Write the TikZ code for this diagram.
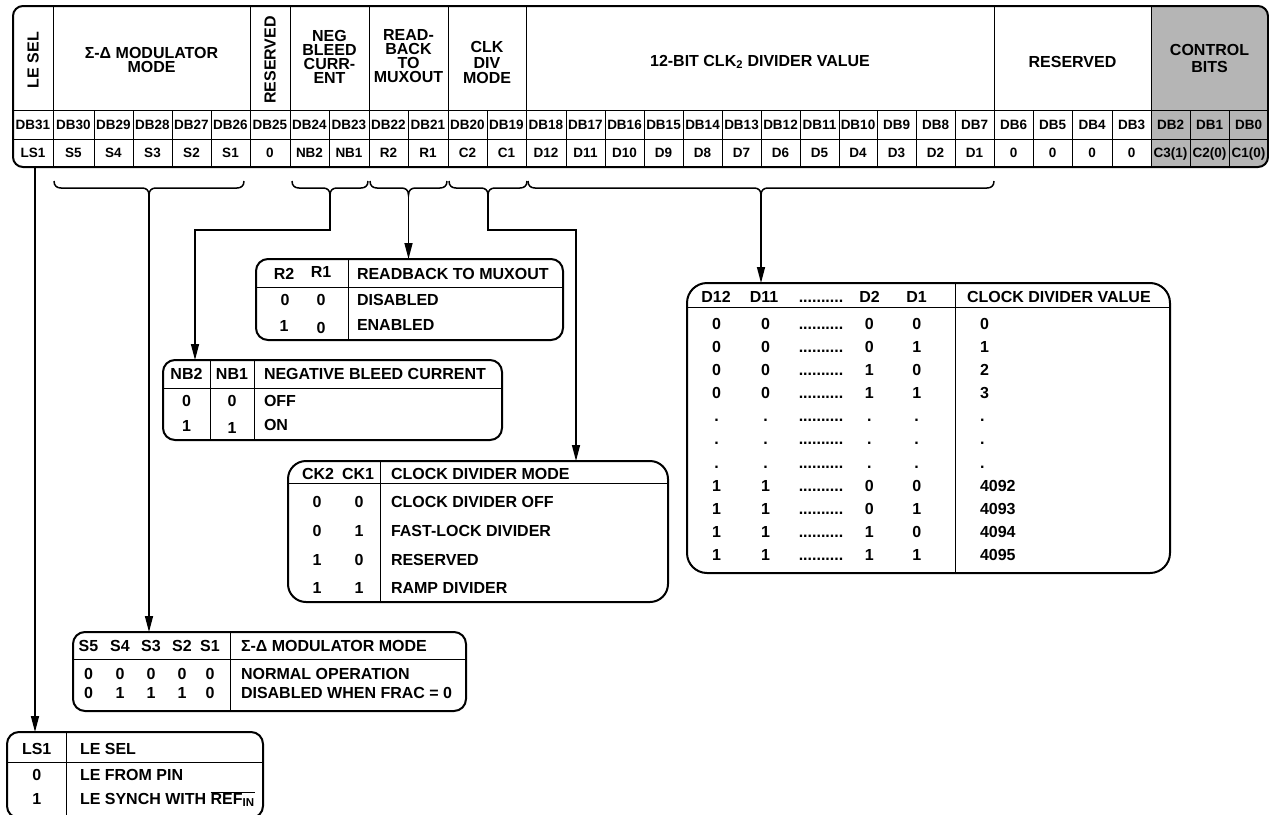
\documentclass[tikz,border=0pt]{standalone}
\usepackage{fontspec}
\setmainfont{Liberation Sans}
\usetikzlibrary{arrows.meta}
\definecolor{ctlgray}{RGB}{181,181,181}
\begin{document}
\begin{tikzpicture}[x=1pt,y=-1pt,
  regbox/.style={draw,line width=2pt,rounded corners=10pt,inner sep=0pt,outer sep=0pt},
  tblbox/.style={draw,line width=2pt,rounded corners=12pt,inner sep=0pt,outer sep=0pt,anchor=north west},
  rule/.style={line width=1pt},
  regtxt/.style={inner sep=0pt,outer sep=0pt,anchor=base,font=\bfseries\fontsize{13.5}{15}\selectfont},
  hdrtxt/.style={inner sep=0pt,outer sep=0pt,align=center,font=\bfseries\fontsize{16}{14}\selectfont},
  tbltxt/.style={inner sep=0pt,outer sep=0pt,anchor=base,font=\bfseries\fontsize{16}{18}\selectfont},
  tbllft/.style={tbltxt,anchor=base west},
  brc/.style={line width=1.5pt},
  conn/.style={line width=1.5pt,-{Triangle[length=16pt,width=8pt]}}]
\path[use as bounding box] (0,0) rectangle (1269,814);
\begin{scope}
\clip[rounded corners=10pt] (13,6) rectangle (1268,167);
\fill[ctlgray] (1151,6) rectangle (1268,167);
\end{scope}
\node[regbox,minimum width=1255pt,minimum height=161pt,anchor=north west] (reg) at (13,6) {};
\draw[rule] (13,110) -- (1268,110);
\draw[rule] (13,139) -- (1268,139);
\foreach \xg in {53,250,290,369,448,526,994,1151}
  \draw[rule] (\xg,6) -- (\xg,110);
\foreach \xa/\xb/\db/\bv in {13/53/31/LS1, 53/94/30/S5, 94/133/29/S4, 133/172/28/S3, 172/211/27/S2, 211/250/26/S1, 250/290/25/0, 290/329/24/NB2, 329/369/23/NB1, 369/408/22/R2, 408/448/21/R1, 448/487/20/C2, 487/526/19/C1, 526/566/18/D12, 566/605/17/D11, 605/644/16/D10, 644/683/15/D9, 683/722/14/D8, 722/761/13/D7, 761/800/12/D6, 800/839/11/D5, 839/877/10/D4, 877/916/9/D3, 916/955/8/D2, 955/994/7/D1, 994/1033/6/0, 1033/1072/5/0, 1072/1112/4/0, 1112/1151/3/0, 1151/1190/2/C3(1), 1190/1229/1/C2(0), 1229/1268/0/C1(0)}
{
  \node[regtxt] (db\db) at ({(\xa+\xb)/2},129.3) {DB\db};
  \node[regtxt] (bv\db) at ({(\xa+\xb)/2},157.8) {\bv};
  \ifnum\xb<1268 \draw[rule] (\xb,110) -- (\xb,167); \fi
}
\node[hdrtxt,rotate=90] (hLE) at (33,60) {LE SEL};
\node[hdrtxt] (hSD) at (151.5,60) {Σ-Δ MODULATOR\\MODE};
\node[hdrtxt,rotate=90] (hRS) at (270,60) {RESERVED};
\node[hdrtxt] (hNB) at (329.5,56.5) {NEG\\BLEED\\CURR-\\ENT};
\node[hdrtxt] (hRB) at (408.5,56.5) {READ-\\BACK\\TO\\MUXOUT};
\node[hdrtxt,font=\bfseries\fontsize{16}{15.5}\selectfont] (hCK) at (487,62.5) {CLK\\DIV\\MODE};
\node[hdrtxt] (hDV) at (760,62) {12-BIT CLK\textsubscript{2} DIVIDER VALUE};
\node[hdrtxt] (hRV) at (1072.5,62) {RESERVED};
\node[hdrtxt,font=\bfseries\fontsize{16}{17}\selectfont] (hCB) at (1209.5,58.5) {CONTROL\\BITS};
\foreach \xl/\xr/\bn in {54/244/bS, 292/368/bN, 370/447/bR, 449/527/bC, 528/994/bD}
{
  \pgfmathsetmacro\xm{(\xl+\xr)/2}
  \draw[brc] (\xl,181) .. controls (\xl,186) and (\xl+3,188) .. (\xl+7,188) -- (\xm-7,188)
    .. controls (\xm-3,188) and (\xm,190) .. (\xm,195)
    .. controls (\xm,190) and (\xm+3,188) .. (\xm+7,188) -- (\xr-7,188)
    .. controls (\xr-3,188) and (\xr,186) .. (\xr,181);
  \coordinate (\bn) at (\xm,195);
}
\node[tblbox,minimum width=307pt,minimum height=81pt] (rdbox) at (256,259) {};
\draw[rule] (256,287) -- (563,287);
\draw[rule] (348,259) -- (348,340);
\node[tbltxt] (rdH2) at (284,279) {R2};
\node[tbltxt] (rdH1) at (321,277) {R1};
\node[tbllft] (rdHT) at (357,279) {READBACK TO MUXOUT};
\node[tbltxt] (rdA2) at (285,305.8) {0};
\node[tbltxt] (rdA1) at (321,305.8) {0};
\node[tbllft] (rdAT) at (357,305.8) {DISABLED};
\node[tbltxt] (rdB2) at (284,331.5) {1};
\node[tbltxt] (rdB1) at (321,333) {0};
\node[tbllft] (rdBT) at (357,330) {ENABLED};
\node[tblbox,minimum width=339pt,minimum height=80pt] (nbbox) at (163,360) {};
\draw[rule] (163,388) -- (502,388);
\draw[rule] (210.5,360) -- (210.5,440);
\draw[rule] (254,360) -- (254,440);
\node[tbltxt] (nbH2) at (186.5,379) {NB2};
\node[tbltxt] (nbH1) at (232,379) {NB1};
\node[tbllft] (nbHT) at (264,379) {NEGATIVE BLEED CURRENT};
\node[tbltxt] (nbA2) at (186.5,406.8) {0};
\node[tbltxt] (nbA1) at (232,406.8) {0};
\node[tbllft] (nbAT) at (264,406.8) {OFF};
\node[tbltxt] (nbB2) at (186.5,431.8) {1};
\node[tbltxt] (nbB1) at (232,433) {1};
\node[tbllft] (nbBT) at (264,430.8) {ON};
\node[tblbox,rounded corners=18pt,minimum width=380pt,minimum height=141pt] (ckbox) at (288,461) {};
\draw[rule] (288,483) -- (668,483);
\draw[rule] (380,461) -- (380,602);
\node[tbltxt] (ckH2) at (318,479) {CK2};
\node[tbltxt] (ckH1) at (358,479) {CK1};
\node[tbllft] (ckHT) at (391,479) {CLOCK DIVIDER MODE};
\foreach \ka/\kb/\kt [count=\k] in {0/0/CLOCK DIVIDER OFF, 0/1/FAST-LOCK DIVIDER, 1/0/RESERVED, 1/1/RAMP DIVIDER}
{
  \pgfmathsetmacro\yb{478.7+28.8*\k}
  \node[tbltxt] (ckA\k) at (317,\yb) {\ka};
  \node[tbltxt] (ckB\k) at (359,\yb) {\kb};
  \node[tbllft] (ckT\k) at (391,\yb) {\kt};
}
\node[tblbox,rounded corners=20pt,minimum width=483pt,minimum height=290pt] (dvbox) at (687,283) {};
\draw[rule] (687,307) -- (1170,307);
\draw[rule] (955.5,283) -- (955.5,573);
\node[tbltxt] (dvH1) at (716,302.5) {D12};
\node[tbltxt] (dvH2) at (764,302.5) {D11};
\node[tbltxt] (dvH3) at (821,302.5) {..........};
\node[tbltxt] (dvH4) at (869.5,302.5) {D2};
\node[tbltxt] (dvH5) at (916.5,302.5) {D1};
\node[tbllft] (dvHT) at (967,302.5) {CLOCK DIVIDER VALUE};
\foreach \ca/\cb/\cd/\ce/\cv [count=\k from 0] in {0/0/0/0/0, 0/0/0/1/1, 0/0/1/0/2, 0/0/1/1/3, ./././././, ./././././, ./././././, 1/1/0/0/4092, 1/1/0/1/4093, 1/1/1/0/4094, 1/1/1/1/4095}
{
  \pgfmathsetmacro\yb{329.1+23.17*\k}
  \node[tbltxt] (dvA\k) at (716.5,\yb) {\ca};
  \node[tbltxt] (dvB\k) at (765.5,\yb) {\cb};
  \node[tbltxt] (dvC\k) at (821,\yb) {..........};
  \node[tbltxt] (dvD\k) at (869.3,\yb) {\cd};
  \node[tbltxt] (dvE\k) at (916.7,\yb) {\ce};
  \node[tbllft] (dvV\k) at (980,\yb) {\cv};
}
\node[tblbox,minimum width=393pt,minimum height=79pt] (sgbox) at (73,632) {};
\draw[rule] (73,659) -- (466,659);
\draw[rule] (230,632) -- (230,711);
\foreach \sx/\sh/\sa/\sb in {88.5/S5/0/0, 120/S4/0/1, 151/S3/0/1, 182/S2/0/1, 210/S1/0/0}
{
  \node[tbltxt] (sgH\sh) at (\sx,651.5) {\sh};
  \node[tbltxt] (sgA\sh) at (\sx,679.8) {\sa};
  \node[tbltxt] (sgB\sh) at (\sx,698.5) {\sb};
}
\node[tbllft] (sgHT) at (241,651.5) {Σ-Δ MODULATOR MODE};
\node[tbllft] (sgAT) at (241,679.8) {NORMAL OPERATION};
\node[tbllft] (sgBT) at (241,698.5) {DISABLED WHEN FRAC = 0};
\node[tblbox,minimum width=256pt,minimum height=86pt] (lsbox) at (7,732) {};
\draw[rule] (7,762) -- (263,762);
\draw[rule] (66,732) -- (66,818);
\node[tbltxt] (lsH1) at (36.7,754) {LS1};
\node[tbllft] (lsHT) at (80,754) {LE SEL};
\node[tbltxt] (lsA1) at (36.7,780.8) {0};
\node[tbllft] (lsAT) at (80,780.8) {LE FROM PIN};
\node[tbltxt] (lsB1) at (36.7,804.2) {1};
\node[tbllft] (lsBT) at (80,804.2) {LE SYNCH WITH $\overline{\hbox{REF}_{\hbox{\fontsize{11.5}{12}\selectfont IN}}}$};
\coordinate (lsK) at (35,167);
\coordinate (nbK) at (195,230);
\coordinate (ckK) at (576,230);
\draw[conn] (lsK) -- (lsK |- lsbox.north);
\draw[conn] (bS) -- (bS |- sgbox.north);
\draw[conn] (bN) |- (nbK) -- (nbK |- nbbox.north);
\draw[conn] (bR) -- (bR |- rdbox.north);
\draw[conn] (bC) |- (ckK) -- (ckK |- ckbox.north);
\draw[conn] (bD) -- (bD |- dvbox.north);
\end{tikzpicture}
\end{document}
